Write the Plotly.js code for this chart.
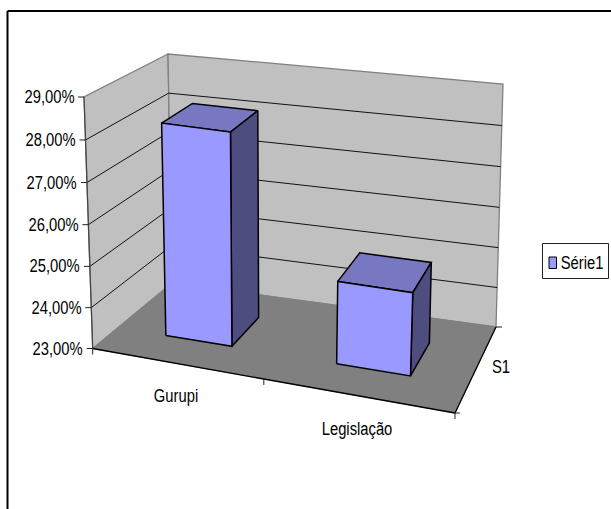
<!DOCTYPE html>
<html>
<head>
<meta charset="utf-8">
<script src="https://cdn.plot.ly/plotly-3.0.1.min.js"></script>
<style>html,body{margin:0;padding:0;background:#fff}</style>
</head>
<body>
<div id="chart" style="width:611px;height:509px"></div>
<script>
// Chart data
const categories = ['Gurupi', 'Legislação'];
const seriesName = 'Série1';
const depthLabel = 'S1';
const values = [28.2, 25.0];
const valueTicks = [23, 24, 25, 26, 27, 28, 29];
const valueTickLabels = ['23,00%', '24,00%', '25,00%', '26,00%', '27,00%', '28,00%', '29,00%'];

// Box corners of the 3D plot on the page: [category pos, depth pos, value pos]
const corners = {
  b000: [92.7, 348.5], b100: [455, 413], b010: [172, 283], b110: [496, 327],
  t000: [84, 97],      t100: [466, 150], t010: [168, 54],  t110: [503, 84]
};
const minV = valueTicks[0], maxV = valueTicks[valueTicks.length - 1];
const persp = (t, a) => a * t / (1 + (a - 1) * t);

// Trilinear oblique projection with a perspective ease along each axis
function project(u, w, v) {
  const U = persp(u, 0.895), W = persp(w, 1.1), V = persp((v - minV) / (maxV - minV), 0.97);
  const mix = (a, b, t) => [a[0] + (b[0] - a[0]) * t, a[1] + (b[1] - a[1]) * t];
  const b = mix(mix(corners.b000, corners.b100, U), mix(corners.b010, corners.b110, U), W);
  const t = mix(mix(corners.t000, corners.t100, U), mix(corners.t010, corners.t110, U), W);
  return mix(b, t, V);
}

const traces = [];
function poly(points, fill, lineColor, lineWidth) {
  const pts = points.map(p => project(p[0], p[1], p[2]));
  traces.push({
    type: 'scatter', mode: 'lines', hoverinfo: 'skip', showlegend: false,
    x: pts.map(p => p[0]), y: pts.map(p => p[1]),
    fill: fill ? 'toself' : 'none', fillcolor: fill || undefined,
    line: {color: lineColor, width: lineWidth}
  });
}
const polyline = (a, b, color, width) => poly([a, b], null, color, width);

// Walls and floor
const wallGrey = '#c0c0c0', edgeGrey = '#808080', floorGrey = '#808080';
poly([[0,0,minV],[0,1,minV],[0,1,maxV],[0,0,maxV],[0,0,minV]], wallGrey, edgeGrey, 1.3);
poly([[0,1,minV],[1,1,minV],[1,1,maxV],[0,1,maxV],[0,1,minV]], wallGrey, edgeGrey, 1.3);
poly([[0,0,minV],[1,0,minV],[1,1,minV],[0,1,minV],[0,0,minV]], floorGrey, edgeGrey, 1);

// Gridlines on both walls
valueTicks.slice(1, -1).forEach(v => {
  polyline([0,0,v], [0,1,v], '#111', 1);
  polyline([0,1,v], [1,1,v], '#111', 1);
});

// Axis lines and tick marks
polyline([0,0,minV], [0,0,maxV], '#444', 1.2);
polyline([0,0,minV], [1,0,minV], '#000', 1.3);
polyline([1,0,minV], [1,1,minV], '#000', 1.3);

const shapes = [];
const tick = (p, dx, dy) => shapes.push({
  type: 'line', xref: 'x', yref: 'y', x0: p[0], y0: p[1], x1: p[0] + dx, y1: p[1] + dy,
  line: {color: '#222', width: 1}
});
valueTicks.forEach(v => tick(project(0, 0, v), -6, 0));
[0, 0.5, 1].forEach(u => tick(project(u, 0, minV), 0, 6));
tick(project(1, 0, minV), 5, 0);
tick(project(1, 1, minV), 6, 0);

// Columns, one face at a time
const barWidth = 0.2, barDepth = [0.3, 0.7];
const faceFront = '#9999ff', faceTop = '#7777c2', faceSide = '#4d4d80';
categories.forEach((name, i) => {
  const c = (i + 0.5) / categories.length;
  const u0 = c - barWidth / 2, u1 = c + barWidth / 2, w0 = barDepth[0], w1 = barDepth[1], h = values[i];
  poly([[u0,w0,h],[u1,w0,h],[u1,w1,h],[u0,w1,h],[u0,w0,h]], faceTop, '#000', 1.5);
  poly([[u1,w0,minV],[u1,w1,minV],[u1,w1,h],[u1,w0,h],[u1,w0,minV]], faceSide, '#000', 1.5);
  poly([[u0,w0,minV],[u1,w0,minV],[u1,w0,h],[u0,w0,h],[u0,w0,minV]], faceFront, '#000', 1.5);
});

// Text: every label is centred on its anchor, then narrowed about that centre
const font = {family: '"Liberation Sans", Arial, sans-serif', size: 18, color: '#000'};
const textNarrowing = 0.82;
const label = (text, x, y) => ({
  text, x, y, xref: 'x', yref: 'y', xanchor: 'center', yanchor: 'middle', showarrow: false, font
});
const annotations = [];
valueTicks.forEach((v, i) => {
  const p = project(0, 0, v);
  annotations.push(label(valueTickLabels[i], p[0] - 35, p[1]));
});
categories.forEach((name, i) => {
  const p = project((i + 0.5) / categories.length, 0, minV);
  annotations.push(label(name, p[0], p[1] + 33));
});
const depthAnchor = project(1, 0.5, minV);
annotations.push(label(depthLabel, depthAnchor[0] + 24.5, depthAnchor[1] - 1));

// Legend box with its swatch and series name
const legendBox = {x0: 542.5, x1: 608.5, y0: 243.5, y1: 278.5};
shapes.push({type: 'rect', xref: 'x', yref: 'y', x0: legendBox.x0, x1: legendBox.x1,
  y0: legendBox.y0, y1: legendBox.y1, line: {color: '#222', width: 1}, fillcolor: '#fff', layer: 'below'});
shapes.push({type: 'rect', xref: 'x', yref: 'y', x0: legendBox.x0 + 6.5, x1: legendBox.x0 + 14,
  y0: legendBox.y0 + 13.5, y1: legendBox.y0 + 25, line: {color: '#000', width: 1}, fillcolor: faceFront});
annotations.push(label(seriesName, legendBox.x0 + 39.5, legendBox.y0 + 19));

// Chart frame: only the top and left edges fall inside the page
shapes.push({type: 'line', xref: 'x', yref: 'y', x0: 7.5, y0: 11, x1: 611, y1: 11, line: {color: '#000', width: 2}});
shapes.push({type: 'line', xref: 'x', yref: 'y', x0: 7.5, y0: 11, x1: 7.5, y1: 509, line: {color: '#000', width: 2}});

Plotly.newPlot('chart', traces, {
  width: 611, height: 509, margin: {l: 0, r: 0, t: 0, b: 0},
  paper_bgcolor: '#fff', plot_bgcolor: '#fff', showlegend: false,
  xaxis: {range: [0, 611], visible: false, fixedrange: true},
  yaxis: {range: [509, 0], visible: false, fixedrange: true},
  shapes, annotations
}, {displayModeBar: false, staticPlot: true}).then(() => {
  document.querySelectorAll('#chart .annotation-text').forEach(t => {
    t.setAttribute('textLength', (t.getComputedTextLength() * textNarrowing).toFixed(1));
    t.setAttribute('lengthAdjust', 'spacingAndGlyphs');
  });
});
</script>
</body>
</html>
